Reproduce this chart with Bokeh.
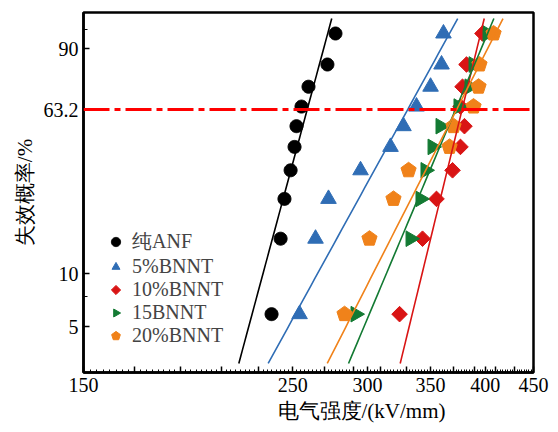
import numpy as np
from bokeh.plotting import figure
from bokeh.models import FixedTicker, CustomJSTickFormatter, Span, Title, Range1d
from bokeh.embed import file_html
from bokeh.resources import INLINE

# ---------------- data ----------------
# failure probability (%) of each ranked sample
prob = [5.9, 15.7, 25.5, 35.3, 45.1, 54.9, 64.7, 74.5, 84.3, 94.1]
series_names = ["纯ANF", "5%BNNT", "10%BNNT", "15BNNT", "20%BNNT"]
# breakdown strength (kV/mm) at each probability
anf      = [237.4, 242.7, 245.0, 248.7, 251.1, 252.3, 255.4, 259.8, 272.1, 277.5]
bnnt5    = [254.2, 264.3, 272.8, 295.0, 317.4, 327.6, 338.2, 350.0, 359.5, 361.2]
bnnt10   = [324.5, 343.2, 355.1, 369.3, 376.5, 380.2, 376.5, 378.4, 382.1, 397.3]
bnnt15   = [291.4, 333.3, 341.5, 345.7, 351.7, 358.6, 374.7, 384.9, 388.7, 402.2]
bnnt20   = [283.7, 301.5, 319.7, 331.7, 366.6, 370.2, 388.7, 393.5, 394.4, 408.2]
# Weibull fit: scale (kV/mm) and shape
scale_alpha = [259, 331, 378, 372, 373]
shape_beta  = [20.8, 10.2, 23.0, 13.3, 11.0]
fit_prob_span = [3.05, 96.9]
ref_prob = 63.2
x_tick_labels = [150, 250, 300, 350, 400, 450]
y_tick_labels = [5, 10, 63.2, 90]
y_minor_ticks = [7.5, 95]
y_view = [2.70, 97.7]
x_view = [150, 450]

colors = ["#000000", "#2f6db5", "#d91414", "#137a33", "#f0821a"]
# marker shapes: (number of sides, radius px, rotation)
shapes = [(40, 6.5, 0.0), (3, 9.0, 0.0), (4, 7.8, 0.0), (3, 9.0, -np.pi / 2), (5, 8.0, 0.0)]
serif = "Liberation Serif"


def wb(F):
    return np.log(-np.log(1 - np.asarray(F, dtype=float) / 100.0))


p = figure(width=558, height=432, x_axis_type="log",
           x_range=Range1d(*x_view), y_range=Range1d(*[float(v) for v in wb(y_view)]),
           output_backend="svg", toolbar_location=None,
           min_border_left=83, min_border_right=25, min_border_top=12, min_border_bottom=60)

p.grid.visible = False
p.outline_line_color = "black"
p.outline_line_width = 2.5
p.outline_line_alpha = 1.0

yp = wb(prob)
all_series = [anf, bnnt5, bnnt10, bnnt15, bnnt20]

# markers
for xs, name, c, (n, r, ang) in zip(all_series, series_names, colors, shapes):
    p.ngon(xs, yp, radius=r, radius_units="screen", n=n, angle=ang,
           fill_color=c, line_color=c, legend_label=name)

# Weibull fit lines
yl = np.linspace(*[float(v) for v in wb(fit_prob_span)], 50)
for a, b, c in zip(scale_alpha, shape_beta, colors):
    p.line(a * np.exp(yl / b), yl, line_color=c, line_width=1.6)

# 63.2% reference line
p.add_layout(Span(location=float(wb(ref_prob)), dimension="width", line_color="#ff0000",
                  line_width=3, line_dash="26 5 6 5"))

# x axis
xmajor = sorted(set(range(150, 451, 20)) | set(x_tick_labels))
xminor = [float(v) for v in np.arange(150, 450.1, 2.5)]
p.xaxis.ticker = FixedTicker(ticks=xmajor, minor_ticks=xminor)
p.xaxis.formatter = CustomJSTickFormatter(args=dict(show=x_tick_labels), code="""
    const r = Math.round(tick);
    return show.includes(r) ? String(r) : "";
""")

# y axis
yt = [float(v) for v in wb(y_tick_labels)]
p.yaxis.ticker = FixedTicker(ticks=yt, minor_ticks=[float(v) for v in wb(y_minor_ticks)])
p.yaxis.formatter = CustomJSTickFormatter(args=dict(vals=yt, labels=[str(v) for v in y_tick_labels]), code="""
    const i = vals.findIndex(v => Math.abs(v - tick) < 1e-6);
    return i >= 0 ? labels[i] : "";
""")
p.yaxis.axis_label = "失效概率/%"

for ax in (p.xaxis[0], p.yaxis[0]):
    ax.axis_line_width = 2.5
    ax.major_tick_in = 6
    ax.major_tick_out = 0
    ax.minor_tick_in = 3
    ax.minor_tick_out = 0
    ax.major_tick_line_width = 1.5
    ax.major_label_text_font = serif
    ax.major_label_text_font_size = "20px"
    ax.major_label_text_color = "black"
    ax.axis_label_text_font = serif
    ax.axis_label_text_font_size = "21px"
    ax.axis_label_text_font_style = "normal"
    ax.axis_label_text_color = "black"
    ax.axis_label_standoff = 4
    ax.major_label_standoff = 5

p.yaxis.minor_tick_in = 4

p.add_layout(Title(text="电气强度/(kV/mm)", align="left", offset=194, standoff=4,
                   text_font=serif, text_font_size="21px", text_font_style="normal",
                   text_color="black"), "below")

lg = p.legend[0]
lg.location = (21, 25)
lg.border_line_color = None
lg.background_fill_alpha = 0
lg.padding = 0
lg.margin = 0
lg.spacing = 0
lg.glyph_width = 23
lg.glyph_height = 23
lg.label_height = 20
lg.label_standoff = 5
lg.label_text_font = serif
lg.label_text_font_size = "20px"
lg.label_text_line_height = 1.0

open("out.html", "w").write(file_html(p, INLINE))
